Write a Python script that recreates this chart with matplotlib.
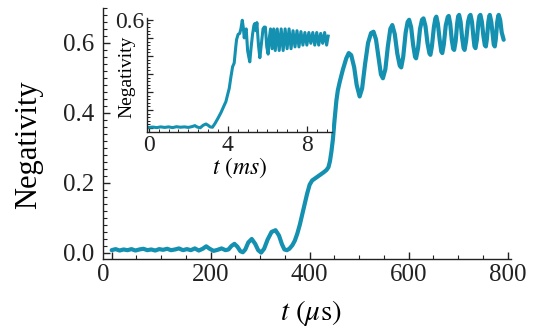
import matplotlib
matplotlib.use("Agg")
import matplotlib.pyplot as plt
import matplotlib.transforms as mtransforms
from matplotlib.ticker import MultipleLocator, FixedLocator, FixedFormatter

plt.rcParams['font.family'] = ['Liberation Serif', 'DejaVu Serif']
plt.rcParams['mathtext.fontset'] = 'stix'

# main curve: time in microseconds, negativity
t_us = [0, 8, 16, 24, 32, 40, 48, 56, 64, 72, 80, 88, 96, 104, 112, 120, 128, 136, 144, 152,
        160, 168, 176, 184, 191, 198, 206, 214, 222, 230, 236, 242, 248, 254, 260, 265, 270, 276,
        283, 290, 296, 302, 308, 315, 323, 331, 338, 344, 349, 354, 359, 365, 370, 375, 380, 385,
        390, 395, 400, 405, 410, 416, 422, 428, 434, 438, 441, 444, 447, 450, 454, 457, 461, 467,
        474, 479, 484, 490, 495, 501, 506, 512, 518, 524, 529, 534, 539, 544, 548, 553, 558, 563,
        567, 572, 577, 582, 585, 589, 594, 598, 601, 605, 609, 613, 615, 619, 623, 627, 630, 634,
        638, 642, 644, 647, 651, 654, 656, 659, 663, 666, 668, 671, 675, 679, 681, 684, 687, 690,
        692, 695, 698, 700, 702, 705, 708, 711, 713, 716, 720, 723, 725, 728, 731, 733, 735, 738,
        741, 743, 745, 748, 751, 754, 756, 758, 761, 763, 764, 767, 770, 772, 774, 776, 779, 781,
        782, 785, 788, 792]
neg_us = [0.008, 0.011, 0.007, 0.010, 0.008, 0.011, 0.007, 0.010, 0.012, 0.008, 0.010, 0.007,
          0.011, 0.009, 0.012, 0.008, 0.010, 0.013, 0.008, 0.011, 0.008, 0.013, 0.007, 0.012,
          0.019, 0.012, 0.006, 0.009, 0.013, 0.008, 0.010, 0.020, 0.026, 0.018, 0.005, 0.002,
          0.010, 0.030, 0.040, 0.026, 0.008, 0.001, 0.012, 0.038, 0.060, 0.065, 0.050, 0.025,
          0.010, 0.008, 0.012, 0.022, 0.035, 0.055, 0.080, 0.110, 0.140, 0.170, 0.195, 0.207,
          0.212, 0.218, 0.224, 0.230, 0.237, 0.245, 0.262, 0.290, 0.325, 0.375, 0.435, 0.465,
          0.490, 0.523, 0.556, 0.571, 0.565, 0.530, 0.480, 0.447, 0.470, 0.540, 0.600, 0.628,
          0.632, 0.610, 0.560, 0.510, 0.499, 0.525, 0.590, 0.640, 0.651, 0.625, 0.570, 0.535,
          0.530, 0.560, 0.630, 0.660, 0.666, 0.645, 0.595, 0.560, 0.556, 0.585, 0.640, 0.666,
          0.670, 0.648, 0.600, 0.570, 0.566, 0.590, 0.645, 0.670, 0.675, 0.655, 0.605, 0.575,
          0.571, 0.595, 0.650, 0.674, 0.677, 0.655, 0.610, 0.583, 0.580, 0.605, 0.655, 0.676,
          0.680, 0.660, 0.615, 0.585, 0.580, 0.605, 0.660, 0.677, 0.680, 0.660, 0.615, 0.590,
          0.585, 0.610, 0.660, 0.677, 0.680, 0.660, 0.620, 0.593, 0.590, 0.610, 0.660, 0.677,
          0.680, 0.660, 0.620, 0.595, 0.590, 0.610, 0.660, 0.677, 0.680, 0.665, 0.630, 0.609]

# inset curve: time in milliseconds, negativity
t_ms = [0, 0.2, 0.4, 0.6, 0.8, 1.0, 1.2, 1.4, 1.6, 1.8, 2.0, 2.2, 2.33, 2.45, 2.6, 2.75, 2.89,
        3.0, 3.1, 3.22, 3.35, 3.5, 3.65, 3.8, 3.9, 4.0, 4.07, 4.15, 4.24, 4.32, 4.4, 4.44, 4.52,
        4.6, 4.66, 4.73, 4.78, 4.83, 4.88, 4.93, 5.0, 5.05, 5.11, 5.18, 5.25, 5.32, 5.37, 5.42,
        5.47, 5.55, 5.62, 5.7, 5.78, 5.84, 5.9, 5.97, 6.04, 6.1, 6.16, 6.24, 6.32, 6.4, 6.5,
        6.6, 6.7, 6.8, 6.9, 7.0, 7.1, 7.2, 7.3, 7.4, 7.5, 7.6, 7.7, 7.8, 7.9, 8.0, 8.1, 8.2,
        8.3, 8.4, 8.5, 8.6, 8.7, 8.8, 8.9, 9.0, 9.08]
neg_ms = [0.003, 0.005, 0.002, 0.006, 0.003, 0.006, 0.002, 0.007, 0.004, 0.006, 0.003, 0.008,
          0.013, 0.005, 0.001, 0.015, 0.022, 0.015, 0.006, 0.004, 0.025, 0.054, 0.085, 0.122,
          0.146, 0.19, 0.22, 0.28, 0.34, 0.36, 0.45, 0.49, 0.52, 0.525, 0.55, 0.598, 0.56, 0.50,
          0.54, 0.55, 0.43, 0.40, 0.367, 0.45, 0.52, 0.57, 0.58, 0.54, 0.585, 0.46, 0.39, 0.47,
          0.55, 0.56, 0.56, 0.45, 0.41, 0.50, 0.55, 0.44, 0.55, 0.43, 0.55, 0.43, 0.55, 0.43,
          0.55, 0.44, 0.55, 0.44, 0.54, 0.45, 0.54, 0.45, 0.535, 0.46, 0.53, 0.46, 0.53, 0.47,
          0.53, 0.46, 0.53, 0.46, 0.525, 0.47, 0.53, 0.46, 0.51]

inset_yticks = [0.0, 0.1, 0.2, 0.3, 0.4, 0.5, 0.6]
inset_ylabels = ['', '', '', '', '', '', '0.6']

color = '#1490b0'
axcol = '#222222'

fig = plt.figure(figsize=(5.38, 3.29), dpi=100)

ax = fig.add_axes([0.191, 0.213, 0.759, 0.763])
ax.plot(t_us, neg_us, color=color, lw=3.0, solid_capstyle='round')
ax.set_xlim(-18, 807)
ax.set_ylim(-0.017, 0.70)
ax.xaxis.set_major_locator(MultipleLocator(200))
ax.xaxis.set_minor_locator(MultipleLocator(50))
ax.yaxis.set_major_locator(MultipleLocator(0.2))
ax.yaxis.set_minor_locator(MultipleLocator(0.02))
ax.yaxis.set_major_formatter(plt.FuncFormatter(lambda v, p: '%.1f' % v))
for s in ['top', 'right']:
    ax.spines[s].set_visible(False)
for s in ['left', 'bottom']:
    ax.spines[s].set_color(axcol)
    ax.spines[s].set_linewidth(1.0)
ax.tick_params(which='both', direction='in', colors=axcol, labelsize=18, labelcolor='#222222')
ax.tick_params(axis='y', pad=6)
ax.tick_params(which='major', length=5, width=1)
ax.tick_params(which='minor', length=3, width=0.8)
ax.set_xlabel(r'$t\ (\mu\mathrm{s})$', fontsize=21, va='top')
ax.xaxis.set_label_coords(0.509, -0.155)
ax.set_ylabel('Negativity', fontsize=22)
ax.yaxis.set_label_coords(-0.147, 0.454)

# the "0" label sits a little left of its tick in the original
fig.canvas.draw()
for lab in ax.get_xticklabels():
    if lab.get_text() == '0':
        lab.set_transform(lab.get_transform() + mtransforms.ScaledTranslation(-0.08, 0, fig.dpi_scale_trans))

ins = fig.add_axes([0.273, 0.599, 0.344, 0.346])
ins.plot(t_ms, neg_ms, color=color, lw=2.2)
ins.set_xlim(-0.1, 9.27)
ins.set_ylim(-0.022, 0.61)
ins.xaxis.set_major_locator(MultipleLocator(4))
ins.xaxis.set_minor_locator(MultipleLocator(0.5))
ins.yaxis.set_major_locator(FixedLocator(inset_yticks))
ins.yaxis.set_major_formatter(FixedFormatter(inset_ylabels))
ins.yaxis.set_minor_locator(MultipleLocator(0.02))
for s in ['top', 'right']:
    ins.spines[s].set_visible(False)
for s in ['left', 'bottom']:
    ins.spines[s].set_color(axcol)
    ins.spines[s].set_linewidth(1.0)
ins.tick_params(which='both', direction='in', colors=axcol, labelsize=17, labelcolor='#222222', pad=2)
ins.tick_params(which='major', length=4, width=0.9)
ins.tick_params(which='minor', length=2, width=0.7)
ins.set_xlabel(r'$t\ (ms)$', fontsize=17, labelpad=0)
ins.set_ylabel('Negativity', fontsize=14)
ins.yaxis.set_label_coords(-0.06, 0.48)

fig.savefig('out.png', dpi=100)
